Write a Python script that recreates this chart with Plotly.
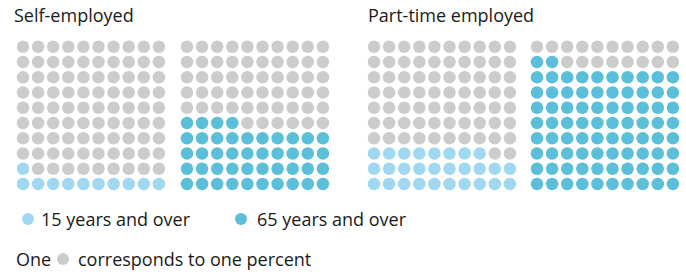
import plotly.graph_objects as go

panels = ["Self-employed", "Part-time employed"]
series = ["15 years and over", "65 years and over"]
values_15 = [11, 28]
values_65 = [44, 82]
colors = {"15 years and over": "#9fd8f0", "65 years and over": "#5bbfd9", "rest": "#cccccc"}

W, H = 686, 272
grid_left = [23, 187, 374, 537]   # x of first column of each grid
grid_bottom = 184                 # y of bottom row
step_x, step_y = 15.1, 15.25
dot = 12.5

fig = go.Figure()

grids = []
for p in range(len(panels)):
    grids.append((values_15[p], series[0]))
    grids.append((values_65[p], series[1]))

for g, (val, name) in enumerate(grids):
    xs_on, ys_on, xs_off, ys_off = [], [], [], []
    for i in range(100):
        r, c = divmod(i, 10)
        x = grid_left[g] + c * step_x
        y = grid_bottom - r * step_y
        if i < val:
            xs_on.append(x); ys_on.append(y)
        else:
            xs_off.append(x); ys_off.append(y)
    fig.add_trace(go.Scatter(x=xs_off, y=ys_off, mode="markers", hoverinfo="skip",
                             marker=dict(size=dot, color=colors["rest"], line=dict(width=0)),
                             showlegend=False))
    fig.add_trace(go.Scatter(x=xs_on, y=ys_on, mode="markers", name=name,
                             marker=dict(size=dot, color=colors[name], line=dict(width=0)),
                             showlegend=False))

# legend dots
fig.add_trace(go.Scatter(x=[28, 241, 63], y=[219, 219, 259], mode="markers", hoverinfo="skip",
                         marker=dict(size=12, color=[colors[series[0]], colors[series[1]], colors["rest"]],
                                     line=dict(width=0)), showlegend=False))

font = dict(family="Open Sans", size=18, color="#1a1a1a")
anns = [
    dict(x=12, y=15, text=panels[0]),
    dict(x=366, y=15, text=panels[1]),
    dict(x=39, y=219, text=series[0]),
    dict(x=255, y=219, text=series[1]),
    dict(x=14, y=259, text="One"),
    dict(x=76, y=259, text="corresponds to one percent"),
]
for a in anns:
    fig.add_annotation(x=a["x"], y=a["y"], text=a["text"], showarrow=False, xanchor="left",
                       yanchor="middle", xref="x", yref="y", font=font)

fig.update_layout(
    width=W, height=H, margin=dict(l=0, r=0, t=0, b=0),
    paper_bgcolor="white", plot_bgcolor="white",
    xaxis=dict(range=[0, W], visible=False, fixedrange=True),
    yaxis=dict(range=[H, 0], visible=False, fixedrange=True),
)
fig.write_html("out.html", config={"displayModeBar": False})

with open("out.html", encoding="utf-8") as f:
    html = f.read()
html = html.replace("<head>", "<head><style>html,body{margin:0;padding:0;overflow:hidden;}</style>", 1)
with open("out.html", "w", encoding="utf-8") as f:
    f.write(html)
